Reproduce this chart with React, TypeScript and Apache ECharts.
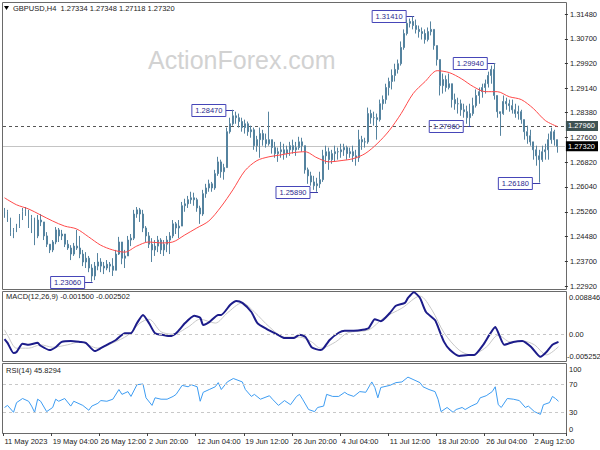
import React, { useEffect, useRef } from "react";
import * as echarts from "echarts";

// ---------- price bars (every bar = 2 x H4) ----------
const firstOpen = 1.2531;
const highs = [
  1.2538, 1.2532, 1.2507, 1.2475, 1.2488, 1.2519, 1.2538, 1.2541, 1.2532, 1.2516,
  1.2507, 1.2516, 1.2519, 1.2494, 1.2462, 1.2424, 1.2437, 1.2478, 1.2475, 1.2469,
  1.2456, 1.2437, 1.2421, 1.2428, 1.2469, 1.245, 1.2406, 1.2399, 1.2387, 1.2361,
  1.2368, 1.2396, 1.238, 1.2368, 1.2374, 1.2368, 1.238, 1.2406, 1.2447, 1.2431,
  1.2406, 1.245, 1.2456, 1.2532, 1.2541, 1.2538, 1.2532, 1.2481, 1.2462, 1.2443,
  1.2437, 1.245, 1.2443, 1.2437, 1.245, 1.2462, 1.25, 1.2494, 1.25, 1.2557,
  1.2567, 1.2576, 1.2589, 1.2586, 1.257, 1.2545, 1.2595, 1.2614, 1.2627, 1.262,
  1.2658, 1.2699, 1.269, 1.2677, 1.2791, 1.2822, 1.2847, 1.2841, 1.2835, 1.2822,
  1.2816, 1.281, 1.2797, 1.2791, 1.2765, 1.2791, 1.2784, 1.2772, 1.2841, 1.2753,
  1.2746, 1.2728, 1.2746, 1.274, 1.2734, 1.2746, 1.2753, 1.2746, 1.2762, 1.2759,
  1.2734, 1.2665, 1.2652, 1.2639, 1.2633, 1.2652, 1.2721, 1.2734, 1.2728, 1.2721,
  1.2734, 1.2728, 1.274, 1.274, 1.2734, 1.2728, 1.2734, 1.2721, 1.2784, 1.2765,
  1.2759, 1.2854, 1.2847, 1.2841, 1.2835, 1.2879, 1.2892, 1.2929, 1.2948, 1.2974,
  1.2992, 1.3005, 1.3062, 1.31, 1.3131, 1.3134, 1.3141, 1.3131, 1.3112, 1.3106,
  1.31, 1.3106, 1.3125, 1.31, 1.3049, 1.3005, 1.2961, 1.2955, 1.2961, 1.2929,
  1.2898, 1.2885, 1.2879, 1.2866, 1.286, 1.2866, 1.2885, 1.2911, 1.2917, 1.2929,
  1.2942, 1.2967, 1.2986, 1.2994, 1.2892, 1.2841, 1.2892, 1.2885, 1.2879, 1.2879,
  1.2866, 1.286, 1.2847, 1.2816, 1.2797, 1.2784, 1.2746, 1.2734, 1.2721, 1.2734,
  1.274, 1.2772, 1.2791, 1.2784, 1.2753,
];
const lows = [
  1.2507, 1.2494, 1.245, 1.2443, 1.2462, 1.2475, 1.25, 1.2513, 1.2475, 1.2459,
  1.2421, 1.2443, 1.2481, 1.2437, 1.2415, 1.2396, 1.2399, 1.2424, 1.2431, 1.2437,
  1.2415, 1.2406, 1.2374, 1.2387, 1.2406, 1.238, 1.2355, 1.2349, 1.2336, 1.2306,
  1.2311, 1.2342, 1.2336, 1.233, 1.2342, 1.2336, 1.2324, 1.2342, 1.239, 1.2361,
  1.2349, 1.2387, 1.2418, 1.2437, 1.2507, 1.2494, 1.2462, 1.2431, 1.2412, 1.2368,
  1.2387, 1.2399, 1.2393, 1.2387, 1.2399, 1.2393, 1.2443, 1.2456, 1.2443, 1.2481,
  1.2526, 1.2538, 1.2551, 1.2545, 1.2526, 1.2488, 1.2513, 1.257, 1.2589, 1.2589,
  1.2595, 1.2639, 1.2633, 1.2627, 1.2665, 1.2772, 1.2797, 1.2803, 1.2791, 1.2778,
  1.2772, 1.2765, 1.2759, 1.2721, 1.2715, 1.2696, 1.2734, 1.2728, 1.2734, 1.2709,
  1.2696, 1.2683, 1.2696, 1.269, 1.2696, 1.2702, 1.2709, 1.2702, 1.2721, 1.2715,
  1.2646, 1.2614, 1.2608, 1.2595, 1.2589, 1.2601, 1.262, 1.2677, 1.2658, 1.2677,
  1.2683, 1.269, 1.2696, 1.2702, 1.269, 1.2696, 1.2683, 1.2671, 1.2683, 1.2721,
  1.2728, 1.274, 1.2803, 1.2797, 1.2753, 1.281, 1.2847, 1.2866, 1.2892, 1.2911,
  1.2936, 1.2961, 1.2986, 1.3036, 1.3081, 1.3106, 1.31, 1.3087, 1.3074, 1.3068,
  1.3055, 1.3062, 1.3081, 1.3036, 1.2986, 1.2892, 1.2898, 1.2904, 1.2911, 1.2854,
  1.2847, 1.2835, 1.2828, 1.2822, 1.2803, 1.2796, 1.2828, 1.2854, 1.2866, 1.2885,
  1.2898, 1.2917, 1.2929, 1.2879, 1.2822, 1.2765, 1.2831, 1.2847, 1.2841, 1.2835,
  1.2822, 1.2816, 1.2803, 1.2753, 1.274, 1.2734, 1.269, 1.2671, 1.2618, 1.2683,
  1.269, 1.269, 1.274, 1.2734, 1.2712,
];
const closes = [
  1.2526, 1.2507, 1.2462, 1.2469, 1.2481, 1.2513, 1.2526, 1.2532, 1.2494, 1.2507,
  1.245, 1.25, 1.2494, 1.245, 1.2424, 1.2406, 1.2431, 1.2469, 1.245, 1.2456,
  1.2424, 1.2412, 1.2393, 1.2418, 1.2412, 1.2393, 1.2368, 1.238, 1.2349, 1.2324,
  1.2355, 1.2368, 1.2355, 1.2349, 1.2361, 1.2355, 1.2342, 1.2393, 1.2431, 1.238,
  1.2387, 1.2437, 1.2443, 1.2519, 1.2532, 1.2519, 1.2475, 1.245, 1.2424, 1.2406,
  1.2418, 1.2437, 1.2406, 1.2424, 1.2437, 1.245, 1.2488, 1.2475, 1.2481, 1.2545,
  1.2551, 1.2564, 1.257, 1.2564, 1.2538, 1.2519, 1.2583, 1.2601, 1.2614, 1.2601,
  1.2646, 1.2683, 1.2652, 1.2665, 1.2778, 1.2803, 1.2828, 1.2822, 1.281, 1.2791,
  1.2803, 1.2778, 1.2784, 1.2734, 1.2753, 1.2772, 1.2753, 1.274, 1.2753, 1.2728,
  1.2709, 1.2715, 1.2721, 1.2709, 1.2721, 1.2734, 1.2721, 1.2728, 1.2746, 1.2734,
  1.2658, 1.2639, 1.262, 1.2608, 1.2614, 1.2627, 1.2702, 1.2715, 1.269, 1.2709,
  1.2715, 1.2715, 1.2721, 1.2728, 1.2709, 1.2715, 1.2702, 1.2696, 1.2753, 1.2746,
  1.2746, 1.2835, 1.2822, 1.2822, 1.2816, 1.2866, 1.2879, 1.2917, 1.2936, 1.2955,
  1.2974, 1.2992, 1.3043, 1.3087, 1.3119, 1.3125, 1.3112, 1.31, 1.3093, 1.3087,
  1.3068, 1.3093, 1.31, 1.3049, 1.3005, 1.2923, 1.2942, 1.2917, 1.2929, 1.2879,
  1.2866, 1.2866, 1.2847, 1.2841, 1.2822, 1.2835, 1.286, 1.2892, 1.2904, 1.2917,
  1.2929, 1.2955, 1.2974, 1.2892, 1.2841, 1.2835, 1.2873, 1.2866, 1.286, 1.2847,
  1.2835, 1.2841, 1.2816, 1.2778, 1.2765, 1.2746, 1.2721, 1.2702, 1.269, 1.2715,
  1.2721, 1.2753, 1.2778, 1.2753, 1.2732,
];

// ---------- moving average (red) ----------
const maIdx = [0, 4, 8, 12, 16, 20, 24, 28, 32, 36, 40, 44, 48, 52, 56, 60, 64, 68, 72, 76, 80, 84, 88, 92, 96, 100, 104, 108, 112, 116, 120, 124, 128, 132, 136, 140, 144, 148, 152, 156, 160, 164, 168, 172, 176, 180, 184];
const maVals = [1.257, 1.2548, 1.2535, 1.2516, 1.2497, 1.2481, 1.2472, 1.2447, 1.2421, 1.2406, 1.2399, 1.2418, 1.2431, 1.2428, 1.2431, 1.2453, 1.2475, 1.2497, 1.2541, 1.2595, 1.2655, 1.2687, 1.2699, 1.2705, 1.2712, 1.2715, 1.2696, 1.2683, 1.2687, 1.2693, 1.2709, 1.274, 1.2781, 1.2835, 1.2898, 1.2936, 1.297, 1.2964, 1.2945, 1.292, 1.2904, 1.2904, 1.2888, 1.2879, 1.2851, 1.2813, 1.2794];

// ---------- MACD(12,26,9) ----------
const macdIdx = [0, 1, 3, 4, 6, 8, 11, 12, 15, 17, 19, 22, 25, 27, 30, 32, 34, 37, 40, 42, 44, 46, 48, 50, 53, 55, 57, 60, 63, 65, 66, 68, 71, 72, 75, 77, 79, 82, 84, 87, 91, 93, 96, 98, 100, 102, 105, 106, 108, 111, 113, 116, 119, 121, 123, 125, 128, 130, 133, 134, 136, 138, 140, 143, 144, 146, 148, 151, 154, 156, 159, 161, 163, 164, 166, 169, 172, 175, 178, 180, 182, 184];
const macdVals = [-0.0009, -0.0017, -0.0038, -0.0036, -0.0019, -0.0021, -0.0017, -0.0023, -0.0032, -0.0026, -0.0015, -0.0013, -0.0015, -0.0017, -0.0034, -0.0028, -0.0021, -0.0011, 0.0003, 0.0003, 0.0024, 0.0041, 0.0024, 0.0003, -0.0001, -0.0003, 0.0003, 0.0024, 0.0039, 0.0035, 0.002, 0.0026, 0.0041, 0.0041, 0.0062, 0.007, 0.0066, 0.0047, 0.0024, 0.0012, -0.0001, -0.0007, -0.0007, 0.0, -0.0005, -0.0026, -0.0032, -0.0028, -0.0011, 0.0004, 0.0008, 0.0008, 0.001, 0.0014, 0.0032, 0.0028, 0.0045, 0.006, 0.0066, 0.0076, 0.0088, 0.0076, 0.0047, 0.003, 0.0016, -0.0015, -0.0032, -0.0044, -0.0042, -0.0042, -0.0021, -0.0001, 0.0016, 0.0004, -0.0021, -0.0015, -0.0013, -0.0026, -0.0046, -0.0036, -0.0021, -0.0015];
const sigIdx = [0, 1, 4, 8, 12, 16, 21, 25, 31, 36, 41, 45, 48, 52, 56, 61, 65, 70, 74, 79, 83, 88, 93, 98, 102, 105, 110, 114, 121, 126, 132, 138, 142, 146, 151, 155, 160, 164, 168, 172, 176, 180, 184];
const sigVals = [0.001, -0.0001, -0.0028, -0.0028, -0.0021, -0.0026, -0.0021, -0.0015, -0.0028, -0.0017, -0.0001, 0.0024, 0.0032, 0.0006, 0.0001, 0.0016, 0.0032, 0.0024, 0.0045, 0.0066, 0.0047, 0.0016, -0.0005, -0.0005, -0.0015, -0.0028, -0.0015, 0.0004, 0.001, 0.0035, 0.0055, 0.008, 0.0051, 0.0004, -0.0032, -0.0042, -0.0026, -0.0001, -0.0015, -0.0013, -0.0021, -0.0042, -0.0025];

// ---------- RSI(14) ----------
const rsiIdx = [0, 1, 3, 4, 6, 8, 9, 10, 11, 12, 14, 16, 17, 18, 20, 22, 23, 26, 28, 29, 31, 32, 34, 36, 38, 39, 41, 42, 44, 46, 47, 49, 50, 52, 54, 56, 57, 59, 61, 62, 64, 65, 66, 68, 70, 71, 72, 74, 76, 79, 80, 82, 83, 85, 88, 89, 91, 93, 95, 97, 98, 99, 101, 103, 104, 106, 107, 109, 111, 113, 114, 116, 118, 120, 122, 123, 124, 125, 128, 130, 132, 134, 136, 138, 139, 141, 143, 144, 145, 147, 149, 150, 152, 153, 155, 157, 158, 160, 162, 163, 164, 165, 167, 169, 171, 173, 174, 176, 178, 179, 181, 182, 183, 184];
const rsiVals = [37, 40, 30, 44, 50, 46, 39, 30, 49, 46, 31, 37, 49, 46, 50, 39, 46, 40, 33, 39, 43, 47, 46, 49, 63, 56, 60, 53, 70, 71, 51, 40, 51, 49, 49, 53, 56, 69, 67, 70, 67, 46, 59, 63, 67, 73, 63, 74, 79, 74, 63, 53, 56, 49, 54, 49, 40, 47, 41, 53, 56, 49, 34, 31, 37, 39, 56, 53, 53, 59, 56, 53, 60, 59, 74, 66, 51, 66, 69, 73, 74, 81, 77, 73, 67, 63, 60, 49, 31, 37, 30, 34, 37, 34, 39, 43, 51, 54, 60, 67, 41, 37, 50, 49, 47, 37, 39, 31, 27, 41, 44, 53, 50, 46];

// ---------- axes / labels ----------
const xTickLabels = ["11 May 2023", "19 May 04:00", "26 May 12:00", "2 Jun 20:00", "12 Jun 04:00", "19 Jun 12:00", "26 Jun 20:00", "4 Jul 04:00", "11 Jul 12:00", "18 Jul 20:00", "26 Jul 04:00", "2 Aug 12:00"];
const labelStep = 16;
const priceTicks = [1.2292, 1.237, 1.2448, 1.2526, 1.2604, 1.2682, 1.276, 1.2838, 1.2914, 1.2992, 1.307, 1.3148];
const priceMin = 1.2283;
const priceMax = 1.3183;
const macdTicks = [0.008846, 0, -0.005252];
const macdTickLabels = ["0.008846", "0.00", "-0.005252"];
const rsiTicks = [100, 70, 30, 0];
const rsiLevels = [70, 30];

// ---------- annotations ----------
const annotValues = [1.2306, 1.2847, 1.2589, 1.3141, 1.2796, 1.2994, 1.2618];
const annotIdx = [29, 76, 104, 136, 155, 163, 178];
const levelPrice = 1.2796;
const lastPrice = 1.2732;

const titleText = "GBPUSD,H4  1.27334 1.27348 1.27118 1.27320";
const macdTitle = "MACD(12,26,9) -0.001500 -0.002502";
const rsiTitle = "RSI(14) 45.8294";

const BAR = "#55839f";
const FONT = "'Liberation Sans', Arial, sans-serif";
const FS = 7.5;

export default function App() {
  const ref = useRef<HTMLDivElement>(null);
  useEffect(() => {
    document.body.style.margin = "0";
    const el = ref.current!;
    const chart = echarts.init(el, null, { renderer: "svg" });
    const N = closes.length;
    const cats = Array.from({ length: N + 2 }, (_, i) => String(i));
    const candles = closes.map((c, i) => [i === 0 ? firstOpen : closes[i - 1], c, lows[i], highs[i]]);
    const pair = (idx: number[], vals: number[]) => idx.map((x, k) => [x, vals[k]]);
    const labelInterval = (i: number) => i % labelStep === 0;

    const xAxes = [0, 1, 2].map((g) => ({
      type: "category",
      gridIndex: g,
      data: cats,
      boundaryGap: true,
      axisLine: { show: false },
      axisTick: { show: g === 2, interval: labelInterval, length: 3, lineStyle: { color: "#444" } },
      axisLabel:
        g === 2
          ? {
              show: true,
              interval: labelInterval,
              formatter: (_v: string, i: number) => xTickLabels[i / labelStep] ?? "",
              align: "left",
              fontSize: FS,
              color: "#222",
              fontFamily: FONT,
              margin: 4,
            }
          : { show: false },
      splitLine: { show: false },
    }));

    const option: any = {
      animation: false,
      backgroundColor: "#ffffff",
      grid: [
        { left: 3, right: 34, top: 3, height: 286 },
        { left: 3, right: 34, top: 292, height: 68 },
        { left: 3, right: 34, top: 364, height: 69 },
      ],
      xAxis: xAxes,
      yAxis: [
        {
          type: "value",
          gridIndex: 0,
          position: "right",
          min: priceMin,
          max: priceMax,
          axisLine: { show: false },
          splitLine: { show: false },
          axisTick: { show: true, length: 3, customValues: priceTicks, lineStyle: { color: "#333" } },
          axisLabel: {
            customValues: priceTicks,
            formatter: (v: number) => v.toFixed(5),
            fontSize: FS,
            color: "#222",
            fontFamily: FONT,
            margin: 5,
          },
        },
        {
          type: "value",
          gridIndex: 1,
          position: "right",
          min: macdTicks[2],
          max: macdTicks[0],
          axisLine: { show: false },
          splitLine: { show: false },
          axisTick: { show: false },
          axisLabel: { show: false },
        },
        {
          type: "value",
          gridIndex: 2,
          position: "right",
          min: 0,
          max: 100,
          axisLine: { show: false },
          splitLine: { show: false },
          axisTick: { show: false },
          axisLabel: { show: false },
        },
      ],
      series: [
        {
          type: "candlestick",
          xAxisIndex: 0,
          yAxisIndex: 0,
          data: candles,
          barWidth: 1.4,
          itemStyle: { color: BAR, color0: BAR, borderColor: BAR, borderColor0: BAR, borderWidth: 1 },
          markLine: {
            symbol: ["none", "none"],
            silent: true,
            animation: false,
            precision: 5,
            z: 1,
            data: [
              {
                yAxis: levelPrice,
                lineStyle: { type: [3, 3], color: "#555", width: 1 },
                label: {
                  show: true,
                  position: "end",
                  formatter: levelPrice.toFixed(5),
                  backgroundColor: "#3e5252",
                  color: "#fff",
                  padding: [1, 3, 1, 2],
                  fontSize: FS,
                  fontFamily: FONT,
                  distance: 1,
                },
              },
              {
                yAxis: lastPrice,
                lineStyle: { type: "solid", color: "#c4c4c4", width: 1 },
                label: {
                  show: true,
                  position: "end",
                  formatter: lastPrice.toFixed(5),
                  backgroundColor: "#000",
                  color: "#fff",
                  padding: [1, 3, 1, 2],
                  fontSize: FS,
                  fontFamily: FONT,
                  distance: 1,
                },
              },
            ],
          },
        },
        {
          type: "line",
          xAxisIndex: 0,
          yAxisIndex: 0,
          data: pair(maIdx, maVals),
          showSymbol: false,
          smooth: 0.3,
          lineStyle: { color: "#ff4a4a", width: 1 },
          z: 3,
        },
        {
          type: "line",
          xAxisIndex: 1,
          yAxisIndex: 1,
          data: pair(sigIdx, sigVals),
          showSymbol: false,
          smooth: 0.3,
          lineStyle: { color: "#c8c8c8", width: 1 },
        },
        {
          type: "line",
          xAxisIndex: 1,
          yAxisIndex: 1,
          data: pair(macdIdx, macdVals),
          showSymbol: false,
          smooth: 0.2,
          lineStyle: { color: "#1c1c8a", width: 2 },
          markLine: {
            symbol: ["none", "none"],
            silent: true,
            precision: 6,
            label: { show: false },
            lineStyle: { color: "#c8c8c8", type: [3, 3], width: 1 },
            data: [{ yAxis: 0 }],
          },
        },
        {
          type: "line",
          xAxisIndex: 2,
          yAxisIndex: 2,
          data: pair(rsiIdx, rsiVals),
          showSymbol: false,
          lineStyle: { color: "#3d9cf2", width: 1 },
          markLine: {
            symbol: ["none", "none"],
            silent: true,
            label: { show: false },
            lineStyle: { color: "#c8c8c8", type: [3, 3], width: 1 },
            data: rsiLevels.map((v) => ({ yAxis: v })),
          },
        },
      ],
    };
    chart.setOption(option);

    const txt = (x: number, y: number, text: string, extra: any = {}) => ({
      type: "text",
      x,
      y,
      silent: true,
      style: {
        text,
        fill: "#222",
        fontSize: FS,
        fontFamily: FONT,
        align: "left",
        verticalAlign: "middle",
        textAlign: "left",
        textVerticalAlign: "middle",
        ...extra,
      },
    });

    const graphics: any[] = [];
    // panel frames
    const frames = [
      [2, 2, 564, 287],
      [2, 291, 564, 70],
      [2, 363, 564, 70],
    ];
    frames.forEach(([x, y, w, h]) =>
      graphics.push({
        type: "rect",
        silent: true,
        shape: { x: x + 0.5, y: y + 0.5, width: w, height: h },
        style: { fill: "none", stroke: "#6a6a6a", lineWidth: 1 },
      })
    );
    // watermark
    graphics.push(txt(148, 60, "ActionForex.com", { fill: "#d2d2d2", fontSize: 25, fontFamily: "Arial, 'Liberation Sans', sans-serif" }));
    // titles
    graphics.push({ type: "polygon", silent: true, shape: { points: [[4, 6], [9, 6], [6.5, 10]] }, style: { fill: "#000" } });
    graphics.push(txt(13, 8.5, titleText));
    graphics.push(txt(6, 296.5, macdTitle));
    graphics.push(txt(6, 370, rsiTitle));

    // MACD scale labels
    macdTicks.forEach((v, k) => {
      const y = chart.convertToPixel({ yAxisIndex: 1 }, v) as number;
      const va = k === 0 ? "top" : k === macdTicks.length - 1 ? "bottom" : "middle";
      graphics.push(txt(v < 0 ? 567 : 569, k === 0 ? y + 1 : y, macdTickLabels[k], { verticalAlign: va, textVerticalAlign: va }));
    });
    // RSI scale labels
    rsiTicks.forEach((v, k) => {
      const y = chart.convertToPixel({ yAxisIndex: 2 }, v) as number;
      const va = k === 0 ? "top" : k === rsiTicks.length - 1 ? "bottom" : "middle";
      graphics.push(txt(569, k === 0 ? y + 1 : y, String(v), { verticalAlign: va, textVerticalAlign: va }));
    });

    // price annotations
    annotValues.forEach((v, k) => {
      const p = chart.convertToPixel({ xAxisIndex: 0, yAxisIndex: 0 }, [annotIdx[k], v]) as number[];
      const px = p[0];
      const py = Math.round(p[1]) + 0.5;
      const right = px - 7;
      const w = 34;
      const h = 12;
      graphics.push({
        type: "line",
        silent: true,
        shape: { x1: right, y1: py, x2: px + 1, y2: py },
        style: { stroke: "#3b3ba8", lineWidth: 1 },
      });
      graphics.push({
        type: "rect",
        silent: true,
        shape: { x: right - w, y: py - h / 2, width: w, height: h },
        style: { fill: "#ffffff", stroke: "#4646b8", lineWidth: 1 },
      });
      graphics.push(txt(right - w / 2, py, v.toFixed(5), { fill: "#2a2a8e", align: "center", textAlign: "center" }));
    });

    chart.setOption({ graphic: graphics });
    return () => chart.dispose();
  }, []);
  return <div ref={ref} style={{ width: 600, height: 450 }} />;
}
